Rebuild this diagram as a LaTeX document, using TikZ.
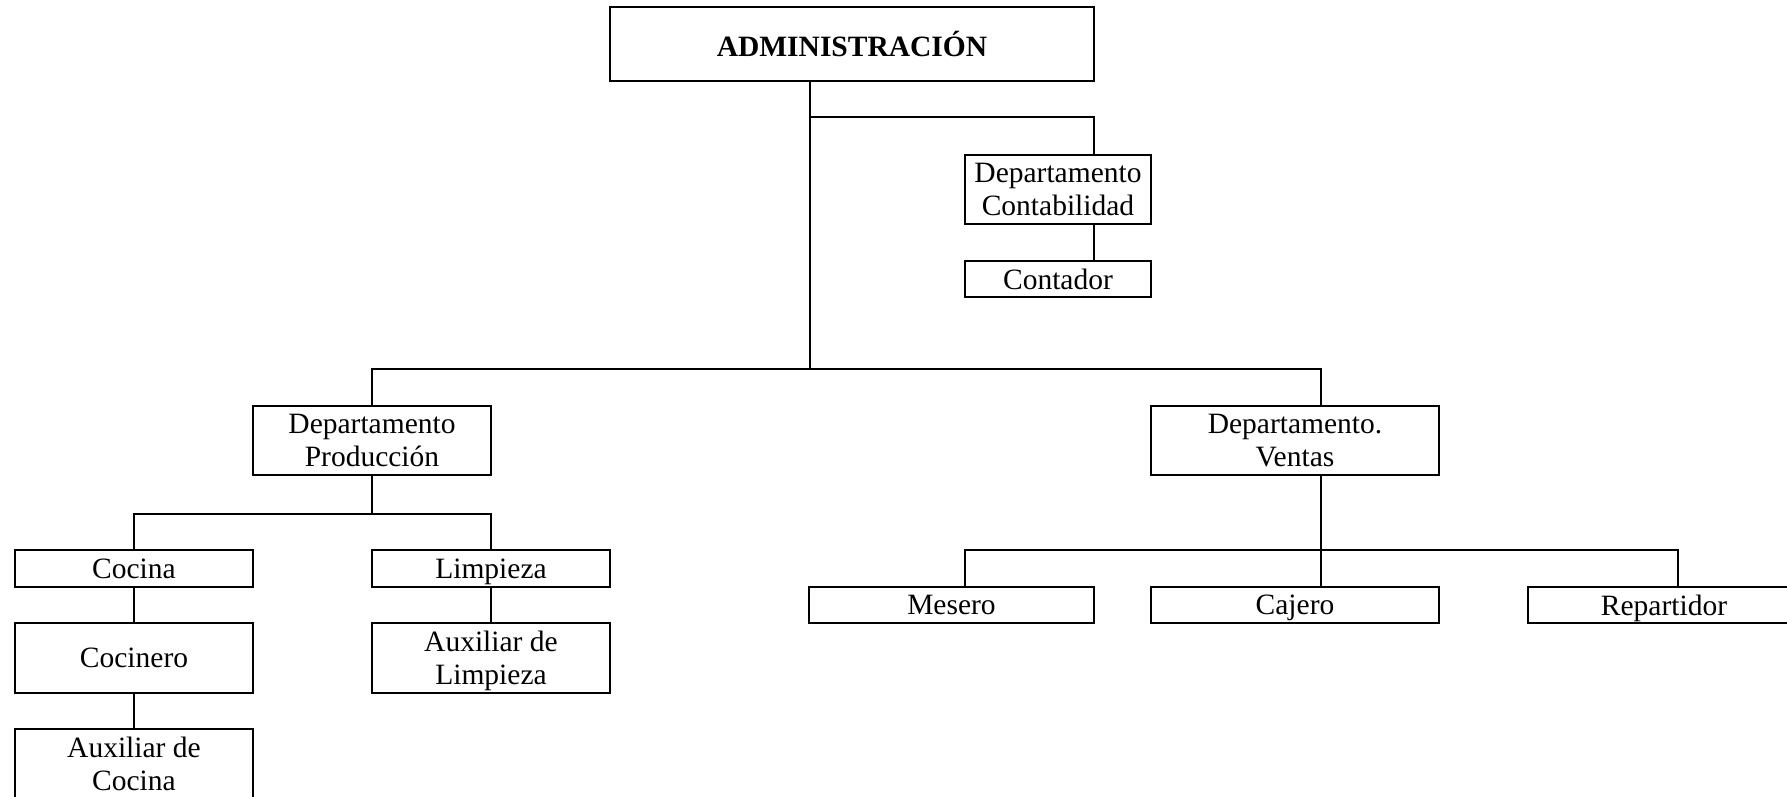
\documentclass[tikz,border=0pt]{standalone}
\usepackage{fontspec}
\setmainfont{Liberation Serif}

\begin{document}
\begin{tikzpicture}[x=0.4pt, y=-0.4pt, line width=0.8pt,
  every node/.style={font=\fontsize{11.8}{13.2}\selectfont},
  caja/.style={draw, line width=0.8pt, inner sep=0pt, align=center},
  caja1/.style={caja, text depth=0pt}]

\useasboundingbox (0,0) rectangle (1787,796);

% =============================================
% NIVEL SUPERIOR: Administración
% =============================================
\node[caja1, minimum width=484*0.4pt, minimum height=74*0.4pt, font=\fontsize{11.8}{13.2}\selectfont\bfseries] (admin) at (852,44) {ADMINISTRACIÓN};

% Departamento de contabilidad (rama lateral)
\node[caja, minimum width=186*0.4pt, minimum height=69*0.4pt] (conta) at (1058,189.5) {Departamento\\Contabilidad};
\node[caja1, minimum width=186*0.4pt, minimum height=36*0.4pt] (contador) at (1058,279) {Contador};

% =============================================
% SEGUNDO NIVEL: Producción y Ventas
% =============================================
\node[caja, minimum width=238*0.4pt, minimum height=69*0.4pt] (prod) at (372,440.5) {Departamento\\Producción};
\node[caja, minimum width=288*0.4pt, minimum height=69*0.4pt] (ventas) at (1295,440.5) {Departamento.\\Ventas};

% =============================================
% RAMA PRODUCCION
% =============================================
\node[caja1, minimum width=238*0.4pt, minimum height=37*0.4pt] (cocina) at (134,568.5) {Cocina};
\node[caja1, minimum width=238*0.4pt, minimum height=37*0.4pt] (limpieza) at (491,568.5) {Limpieza};
\node[caja1, minimum width=238*0.4pt, minimum height=70*0.4pt] (cocinero) at (134,658) {Cocinero};
\node[caja, minimum width=238*0.4pt, minimum height=70*0.4pt] (auxlimp) at (491,658) {Auxiliar de\\\raisebox{0pt}[\height][0pt]{Limpieza}};
\node[caja, minimum width=238*0.4pt, minimum height=70*0.4pt] (auxcoc) at (134,764) {Auxiliar de\\Cocina};

% =============================================
% RAMA VENTAS
% =============================================
\node[caja1, minimum width=285*0.4pt, minimum height=36*0.4pt] (mesero) at (951.5,605) {Mesero};
\node[caja1, minimum width=288*0.4pt, minimum height=36*0.4pt] (cajero) at (1295,605) {Cajero};
\node[caja1, minimum width=272*0.4pt, minimum height=36*0.4pt] (repart) at (1664,605) {Repartidor};

% =============================================
% CONECTORES
% =============================================
% puntos de union
\coordinate (jconta) at (1094,117);
\coordinate (jtronco) at (810,369);
\coordinate (jprod) at (372,514);
\coordinate (jventas) at (1321,550);
\coordinate (jmesero) at (965,550);
\coordinate (jrepart) at (1678,550);

% tronco principal
\draw (admin.south -| jtronco) -- (jtronco);
\draw (jtronco |- jconta) -- (jconta) -- (conta.north -| jconta);
\draw (conta.south -| jconta) -- (contador.north -| jconta);
\draw (prod.north) |- (jtronco) -| (ventas.north -| jventas);

% producción
\draw (prod.south) -- (jprod);
\draw (cocina.north) |- (jprod) -| (limpieza.north);
\draw (cocina.south) -- (cocinero.north);
\draw (cocinero.south) -- (auxcoc.north);
\draw (limpieza.south) -- (auxlimp.north);

% ventas
\draw (ventas.south -| jventas) -- (jventas) -- (cajero.north -| jventas);
\draw (mesero.north -| jmesero) |- (jventas) -| (repart.north -| jrepart);

\end{tikzpicture}
\end{document}
